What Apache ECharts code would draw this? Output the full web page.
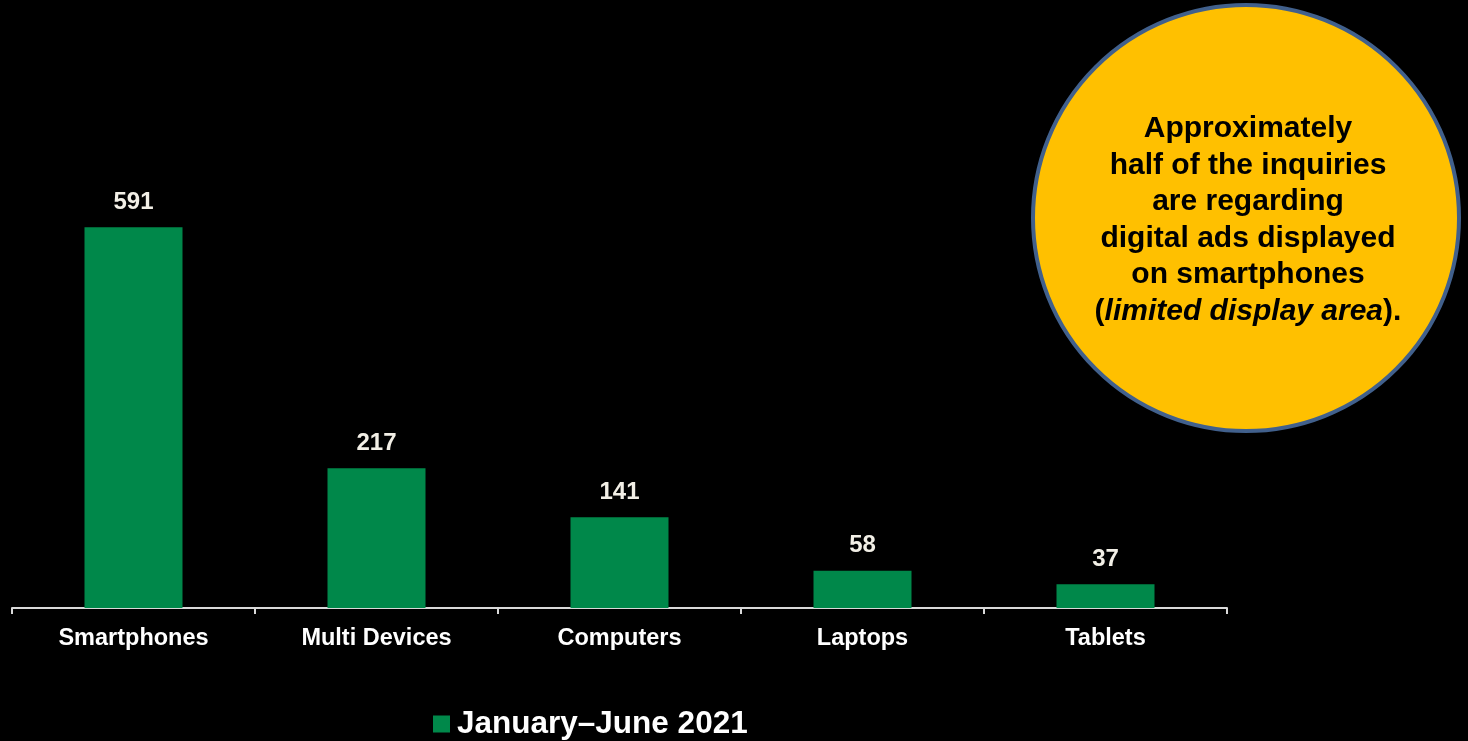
<!DOCTYPE html>
<html>
<head>
<meta charset="utf-8">
<script src="https://cdn.jsdelivr.net/npm/echarts@6/dist/echarts.min.js"></script>
<style>
  html, body { margin: 0; padding: 0; background: #000; }
  #chart { width: 1468px; height: 741px; }
</style>
</head>
<body>
<div id="chart"></div>
<script>
// Device categories and inquiry counts
const categories = ['Smartphones', 'Multi Devices', 'Computers', 'Laptops', 'Tablets'];
const inquiries = [591, 217, 141, 58, 37];
const seriesName = 'January\u2013June 2021';

const FONT = '"Liberation Sans", Arial, sans-serif';

const chart = echarts.init(document.getElementById('chart'));
chart.setOption({
  backgroundColor: '#000000',
  animation: false,
  grid: { left: 12, width: 1215, top: 157, height: 451 },
  legend: {
    data: [seriesName],
    left: 433,
    top: 708,
    padding: 0,
    icon: 'rect',
    itemWidth: 17,
    itemHeight: 17,
    itemGap: 5,
    textStyle: { color: '#ffffff', fontFamily: FONT, fontWeight: 'bold', fontSize: 31.5, padding: [0, 0, 0, 2] }
  },
  xAxis: {
    type: 'category',
    data: categories,
    axisLine: { lineStyle: { color: '#d9d9d9', width: 2 } },
    axisTick: { show: true, length: 6, lineStyle: { color: '#d9d9d9', width: 2 } },
    axisLabel: { color: '#ffffff', fontFamily: FONT, fontWeight: 'bold', fontSize: 23.5, margin: 19 }
  },
  yAxis: {
    type: 'value',
    min: 0,
    max: 700,
    show: false,
    splitLine: { show: false }
  },
  series: [{
    name: seriesName,
    type: 'bar',
    data: inquiries,
    barWidth: 98,
    itemStyle: { color: '#00884a' },
    label: {
      show: true,
      position: 'top',
      distance: 13,
      color: '#f2efe6',
      fontFamily: FONT,
      fontWeight: 'bold',
      fontSize: 24
    }
  }],
  graphic: [
    {
      type: 'circle',
      shape: { cx: 1246, cy: 218, r: 213 },
      style: { fill: '#ffc000', stroke: '#41608c', lineWidth: 4 }
    },
    {
      type: 'text',
      x: 1248,
      y: 220,
      style: {
        text: '{b|Approximately}\n{b|half of the inquiries}\n{b|are regarding}\n{b|digital ads displayed}\n{b|on smartphones}\n{b|(}{i|limited display area}{b|).}',
        align: 'center',
        verticalAlign: 'middle',
        fill: '#000000',
        font: 'bold 30px ' + FONT,
        lineHeight: 36.5,
        rich: {
          b: { fontFamily: FONT, fontWeight: 'bold', fontSize: 30, lineHeight: 36.5, fill: '#000000' },
          i: { fontFamily: FONT, fontWeight: 'bold', fontStyle: 'italic', fontSize: 30, lineHeight: 36.5, fill: '#000000' }
        }
      }
    }
  ]
});
</script>
</body>
</html>
